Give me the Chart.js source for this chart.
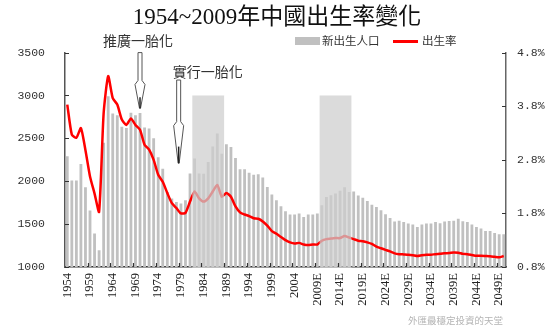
<!DOCTYPE html>
<html>
<head>
<meta charset="utf-8">
<script src="https://cdn.jsdelivr.net/npm/chart.js@4"></script>
<style>
  html, body { margin: 0; padding: 0; background: #fff; }
  canvas { display: block; }
</style>
</head>
<body>
<canvas id="birthChart" width="554" height="331"></canvas>
<script>
// Years on the x axis (E = estimate)
const years = [
    '1954', '1955', '1956', '1957', '1958', '1959', '1960', '1961', '1962', '1963',
    '1964', '1965', '1966', '1967', '1968', '1969', '1970', '1971', '1972', '1973',
    '1974', '1975', '1976', '1977', '1978', '1979', '1980', '1981', '1982', '1983',
    '1984', '1985', '1986', '1987', '1988', '1989', '1990', '1991', '1992', '1993',
    '1994', '1995', '1996', '1997', '1998', '1999', '2000', '2001', '2002', '2003',
    '2004', '2005', '2006', '2007', '2008', '2009E', '2010E', '2011E', '2012E', '2013E',
    '2014E', '2015E', '2016E', '2017E', '2018E', '2019E', '2020E', '2021E', '2022E', '2023E',
    '2024E', '2025E', '2026E', '2027E', '2028E', '2029E', '2030E', '2031E', '2032E', '2033E',
    '2034E', '2035E', '2036E', '2037E', '2038E', '2039E', '2040E', '2041E', '2042E', '2043E',
    '2044E', '2045E', '2046E', '2047E', '2048E', '2049E', '2050E'
];

// New births per year (10k persons)
const births = [
    2290, 2010, 2010, 2200, 1930, 1660, 1390, 1195, 2450, 2990,
    2790, 2770, 2634, 2620, 2800, 2770, 2797, 2627, 2615, 2500,
    2280, 2145, 1875, 1798, 1759, 1740, 1778, 2090, 2265, 2090,
    2088, 2225, 2405, 2556, 2320, 2430, 2400, 2270, 2140, 2140,
    2100, 2075, 2082, 2045, 1934, 1845, 1778, 1708, 1650, 1611,
    1611, 1623, 1584, 1611, 1611, 1623, 1720, 1817, 1837, 1856,
    1890, 1930, 1875, 1880, 1835, 1808, 1770, 1725, 1700, 1662,
    1615, 1570, 1532, 1540, 1525, 1506, 1497, 1467, 1497, 1506,
    1506, 1525, 1510, 1530, 1537, 1540, 1564, 1533, 1525, 1495,
    1467, 1448, 1420, 1420, 1397, 1381, 1381
];

// Birth rate (%)
const birthRate = [
    3.83, 3.27, 3.21, 3.39, 2.98, 2.49, 2.17, 1.83, 3.67, 4.36,
    3.95, 3.83, 3.55, 3.45, 3.57, 3.45, 3.36, 3.08, 2.99, 2.80,
    2.52, 2.39, 2.18, 1.99, 1.90, 1.80, 1.81, 2.02, 2.21, 2.08,
    2.02, 2.08, 2.21, 2.33, 2.11, 2.18, 2.11, 1.93, 1.82, 1.78,
    1.75, 1.71, 1.70, 1.65, 1.57, 1.47, 1.42, 1.36, 1.30, 1.26,
    1.24, 1.25, 1.22, 1.21, 1.22, 1.22, 1.29, 1.32, 1.33, 1.34,
    1.34, 1.38, 1.35, 1.32, 1.29, 1.28, 1.26, 1.23, 1.18, 1.15,
    1.12, 1.09, 1.055, 1.04, 1.035, 1.03, 1.02, 1.005, 1.02, 1.03,
    1.03, 1.04, 1.045, 1.055, 1.06, 1.07, 1.065, 1.045, 1.04, 1.025,
    1.01, 1.01, 1.005, 1.0, 0.99, 0.98, 1.005
];

// Shaded periods (first and last year) and their top on the births axis
const bandYears = [['1982', '1988'], ['2010E', '2016E']];
const bandTop = 3000;

// Policy arrows: x as category position, y on the births axis
const policyArrows = [
    { text: '推廣一胎化', at: 16, top: 3500, tip: 2850 },
    { text: '實行一胎化', at: 24.5, top: 3180, tip: 2210 }
];

const SERIF = '"Liberation Serif", "Noto Sans CJK TC", serif';
const CJK = '"Noto Sans CJK TC", sans-serif';
const MONO = '"Liberation Mono", "DejaVu Sans Mono", monospace';

const BAR_GREY = '#c0c0c0';
const RATE_RED = '#ff0000';

// Shaded bands, inward tick marks, arrows, legend and footnote
const overlayPlugin = {
    id: 'overlay',
    afterDatasetsDraw(chart) {
        const { ctx, chartArea, scales } = chart;
        const x = scales.x, y = scales.y;
        ctx.save();
        ctx.fillStyle = 'rgba(205, 205, 205, 0.72)';
        bandYears.forEach(([a, b]) => {
            const x0 = x.getPixelForValue(years.indexOf(a) - 0.5);
            const x1 = x.getPixelForValue(years.indexOf(b) + 0.5);
            const top = y.getPixelForValue(bandTop);
            ctx.fillRect(x0, top, x1 - x0, chartArea.bottom + 1 - top);
        });
        ctx.restore();
    },
    afterDraw(chart) {
        const { ctx, chartArea, scales } = chart;
        const x = scales.x, y = scales.y, r = scales.yRate;
        ctx.save();

        // tick marks pointing into the plot
        ctx.strokeStyle = '#333';
        ctx.lineWidth = 1.2;
        ctx.beginPath();
        years.forEach((_, i) => {
            if (i % 5 !== 0 || i === 0) return;
            const px = Math.round(x.getPixelForValue(i - 0.5)) + 0.5;
            ctx.moveTo(px, chartArea.bottom);
            ctx.lineTo(px, chartArea.bottom - 4);
        });
        y.ticks.forEach(t => {
            const py = Math.round(y.getPixelForValue(t.value)) + 0.5;
            ctx.moveTo(chartArea.left, py);
            ctx.lineTo(chartArea.left + 4, py);
        });
        r.ticks.forEach(t => {
            const py = Math.round(r.getPixelForValue(t.value)) + 0.5;
            ctx.moveTo(chartArea.right, py);
            ctx.lineTo(chartArea.right - 4, py);
        });
        ctx.stroke();

        // arrows with labels
        policyArrows.forEach((a, k) => {
            const ax = x.getPixelForValue(a.at);
            const top = y.getPixelForValue(a.top);
            const tip = y.getPixelForValue(a.tip);
            const len = tip - top;
            const headY = top + len * 0.5;
            ctx.fillStyle = '#fff';
            ctx.strokeStyle = '#555';
            ctx.lineWidth = 1;
            ctx.beginPath();
            ctx.moveTo(ax - 2, top);
            ctx.lineTo(ax + 2, top);
            ctx.lineTo(ax + 2, headY);
            ctx.lineTo(ax + 5, headY + 4);
            ctx.lineTo(ax + 0.5, tip);
            ctx.lineTo(ax - 0.5, tip);
            ctx.lineTo(ax - 5, headY + 4);
            ctx.lineTo(ax - 2, headY);
            ctx.closePath();
            ctx.fill();
            ctx.stroke();
            ctx.strokeStyle = '#222';
            ctx.lineWidth = 1.5;
            ctx.beginPath();
            ctx.moveTo(ax, headY + len * 0.3);
            ctx.lineTo(ax, tip);
            ctx.stroke();

            ctx.fillStyle = '#333';
            ctx.font = '14px ' + CJK;
            ctx.textBaseline = 'middle';
            ctx.textAlign = k === 0 ? 'center' : 'left';
            if (k === 0) ctx.fillText(a.text, ax - 2, top - 12);
            else ctx.fillText(a.text, ax - 6, top - 8);
        });

        // legend
        const ds = chart.data.datasets;
        ctx.font = '11.5px ' + SERIF;
        ctx.textAlign = 'left';
        ctx.textBaseline = 'middle';
        ctx.fillStyle = ds[1].backgroundColor;
        ctx.fillRect(295, 37, 25, 8);
        ctx.fillStyle = '#333';
        ctx.fillText(ds[1].label, 322, 41.5);
        ctx.strokeStyle = ds[0].borderColor;
        ctx.lineWidth = 3;
        ctx.beginPath();
        ctx.moveTo(393, 41.5);
        ctx.lineTo(418, 41.5);
        ctx.stroke();
        ctx.fillStyle = '#333';
        ctx.fillText(ds[0].label, 422, 41.5);

        // footnote
        ctx.fillStyle = '#b4b4b4';
        ctx.font = '9.5px ' + CJK;
        ctx.textAlign = 'right';
        ctx.fillText('外匯最穩定投資的天堂', 503, 320);
        ctx.restore();
    }
};

const ctx = document.getElementById('birthChart').getContext('2d');
new Chart(ctx, {
    type: 'bar',
    data: {
        labels: years,
        datasets: [
            {
                type: 'line',
                label: '出生率',
                data: birthRate,
                yAxisID: 'yRate',
                borderColor: RATE_RED,
                borderWidth: 2.5,
                pointRadius: 0,
                tension: 0.2,
                order: 0
            },
            {
                type: 'bar',
                label: '新出生人口',
                data: births,
                yAxisID: 'y',
                backgroundColor: BAR_GREY,
                barPercentage: 0.62,
                categoryPercentage: 1,
                order: 1
            }
        ]
    },
    options: {
        responsive: false,
        animation: false,
        devicePixelRatio: 1,
        layout: { padding: 0 },
        scales: {
            x: {
                offset: true,
                grid: { display: false, drawTicks: false, offset: true },
                border: { color: '#333', width: 1.5 },
                ticks: {
                    autoSkip: false,
                    maxRotation: 90,
                    minRotation: 90,
                    padding: 6,
                    color: '#222',
                    font: { family: SERIF, size: 12.5 },
                    callback: function (value, index) {
                        return index % 5 === 0 ? this.getLabelForValue(value) : '';
                    }
                },
                afterFit(scale) { scale.height = 64; }
            },
            y: {
                position: 'left',
                min: 1000,
                max: 3500,
                grid: { display: false, drawTicks: false },
                border: { color: '#555', width: 1.5 },
                ticks: {
                    stepSize: 500,
                    padding: 20,
                    color: '#333',
                    font: { family: MONO, size: 11.5 },
                    callback: v => String(v)
                },
                afterFit(scale) { scale.width = 65; }
            },
            yRate: {
                position: 'right',
                min: 0.8,
                max: 4.8,
                grid: { display: false, drawTicks: false },
                border: { color: '#666', width: 1.5 },
                ticks: {
                    stepSize: 1,
                    padding: 11,
                    color: '#333',
                    font: { family: MONO, size: 11.5 },
                    callback: v => v.toFixed(1) + '%'
                },
                afterFit(scale) { scale.width = 48; }
            }
        },
        plugins: {
            legend: { display: false },
            tooltip: { enabled: false },
            title: {
                display: true,
                text: '1954~2009年中國出生率變化',
                color: '#111',
                font: { family: SERIF, size: 23, weight: 'normal' },
                padding: { top: 4, bottom: 21 }
            }
        }
    },
    plugins: [overlayPlugin]
});
</script>
</body>
</html>
